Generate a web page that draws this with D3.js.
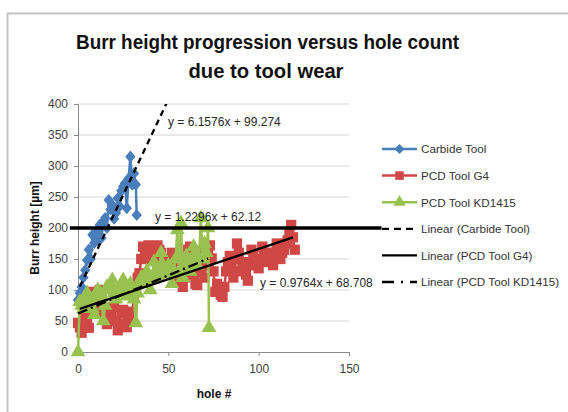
<!DOCTYPE html>
<html><head><meta charset="utf-8">
<script src="https://cdn.jsdelivr.net/npm/d3@7"></script>
<style>body{margin:0;background:#fff}svg{display:block;font-family:"Liberation Sans",Arial,sans-serif}</style>
</head><body><svg id="c" width="568" height="412"></svg>
<script>
// ---- data ----
const carbideX = [0,1,2,3,4,5,6,7,8,9,10,11,12,13,14,15,16,17,18,19,20,21,22,23,24,25,26,27,28,29,30,31,32,32.5];
const carbideY = [84,95,105,120,132,148,165,150,189,176,192,180,205,184,210,216,200,245,230,237,215,224,248,235,260,267,272,232,280,315,270,288,270,221];
const g4X = d3.range(0,121);
const g4Y = [47,40,31,55,62,50,39,70,97,85,
             75,90,100,80,65,55,45,50,60,72,
             73,50,35,45,62,68,45,40,57,52,
             65,90,105,120,127,150,170,160,150,172,
             165,155,148,160,172,165,160,150,140,150,
             130,145,160,140,115,125,145,130,105,120,
             150,165,170,150,125,110,108,130,160,145,
             120,140,165,172,151,130,97,110,100,92,
             89,105,130,145,155,135,120,150,175,160,
             130,140,145,125,115,140,165,155,150,140,
             135,150,170,160,145,155,160,150,140,160,
             175,165,150,160,165,175,180,190,205,185,
             165];
const kdX = d3.range(0,72).concat([72,72.5]);
const kdY = [0,81,75,70,90,95,80,85,70,60,
             90,100,95,90,50,75,105,100,110,116,
             95,85,100,95,105,116,100,90,105,110,
             100,85,47,95,110,120,115,110,130,125,
             100,120,145,130,120,135,160,140,125,130,
             140,125,110,130,150,197,130,208,120,140,
             155,145,130,150,170,160,140,150,216,150,
             175,160,200,39];
const seriesNames = ["Carbide Tool","PCD Tool G4","PCD Tool KD1415"];
const trendNames = ["Linear (Carbide Tool)","Linear (PCD Tool G4)","Linear (PCD Tool KD1415)"];
const trendSlope = [6.1576, 0.9764, 1.2296];
const trendIntercept = [99.274, 68.708, 62.12];
const trendRange = [[1,50],[1,119],[0,72]];
const trendLabels = ["y = 6.1576x + 99.274","y = 0.9764x + 68.708","y = 1.2296x + 62.12"];
const xTicks = [0,50,100,150];
const yTicks = [0,50,100,150,200,250,300,350,400];
const limitValue = 200;
const limitXRange = [-4.5,168];

// ---- setup ----
const svg = d3.select("#c");
const x = d3.scaleLinear().domain([0,150]).range([78,349]);
const y = d3.scaleLinear().domain([0,400]).range([352,104]);
const colors = ["#4a7ebb","#cf4845","#98c14f"];

svg.append("rect").attr("x",7.5).attr("y",13.5).attr("width",700).attr("height",600)
  .attr("fill","#fff").attr("stroke","#c4c4c4").attr("stroke-width",2);

// title
const title = svg.append("text").attr("text-anchor","middle").attr("font-weight","bold")
  .attr("font-size",19.5).attr("fill","#111");
title.append("tspan").attr("x",267.5).attr("y",49).text("Burr height progression versus hole count")
  .attr("textLength",383).attr("lengthAdjust","spacingAndGlyphs");
title.append("tspan").attr("x",266).attr("y",78).text("due to tool wear")
  .attr("textLength",155).attr("lengthAdjust","spacingAndGlyphs");

// gridlines
svg.append("g").selectAll("line").data(yTicks.filter(d=>d>0)).join("line")
  .attr("x1",x(0)).attr("x2",x(150)).attr("y1",d=>y(d)).attr("y2",d=>y(d))
  .attr("stroke","#d4d4d4").attr("stroke-width",1);

// axes
const xa = svg.append("g").attr("transform",`translate(0,${y(0)})`)
  .call(d3.axisBottom(x).tickValues(xTicks).tickSize(4).tickPadding(8));
const ya = svg.append("g").attr("transform",`translate(${x(0)},0)`)
  .call(d3.axisLeft(y).tickValues(yTicks).tickSize(4).tickPadding(6));
[xa,ya].forEach(a=>{
  a.select(".domain").attr("stroke","#8a8a8a");
  a.selectAll(".tick line").attr("stroke","#8a8a8a");
  a.selectAll("text").attr("font-size",12).attr("fill","#404040").attr("font-family","Liberation Sans, Arial, sans-serif");
});

// axis titles
svg.append("text").attr("x",214).attr("y",398).attr("text-anchor","middle")
  .attr("font-weight","bold").attr("font-size",12).attr("fill","#111").text("hole #");
svg.append("text").attr("transform","translate(39,228) rotate(-90)").attr("text-anchor","middle")
  .attr("font-weight","bold").attr("font-size",12).attr("fill","#111").text("Burr height [µm]");

// clip
svg.append("clipPath").attr("id","pc").append("rect")
  .attr("x",x(0)-7).attr("y",y(400)).attr("width",x(150)-x(0)+14).attr("height",y(0)-y(400)+8);

const plot = svg.append("g").attr("clip-path","url(#pc)");
const line = d3.line().x(d=>x(d[0])).y(d=>y(d[1]));
const series = [
  d3.zip(carbideX,carbideY),
  d3.zip(g4X,g4Y),
  d3.zip(kdX,kdY)
];
const symTypes = [d3.symbolDiamond2, d3.symbolSquare, d3.symbolTriangle];
const symSizes = [95, 105, 95];
function marker(sel,i,scale){
  const s = d3.symbol().type(symTypes[i]).size(symSizes[i]*(scale||1));
  sel.attr("d",s);
}
series.forEach((pts,i)=>{
  const g = plot.append("g");
  g.append("path").datum(pts).attr("d",line).attr("fill","none")
    .attr("stroke",colors[i]).attr("stroke-width",2.5).attr("stroke-linejoin","round");
  g.selectAll("path.m").data(pts).join("path").attr("class","m")
    .attr("transform",d=>`translate(${x(d[0])},${y(d[1])})${i===0?" scale(0.85,1)":""}`)
    .call(marker,i).attr("fill",colors[i]);
});

// trendlines
const dashes = ["6,4.5", null, "10,4,2,4"];
trendSlope.forEach((m,i)=>{
  const pts = trendRange[i].map(v=>[v, m*v+trendIntercept[i]]);
  plot.append("path").datum(pts).attr("d",line).attr("fill","none")
    .attr("stroke","#000").attr("stroke-width",2.3)
    .attr("stroke-dasharray",dashes[i]);
});

// limit line
svg.append("line").attr("x1",x(limitXRange[0])).attr("x2",x(limitXRange[1]))
  .attr("y1",y(limitValue)).attr("y2",y(limitValue))
  .attr("stroke","#000").attr("stroke-width",3.5);

// trend labels
const labelPos = [[168,126],[260,287],[155,221]];
trendLabels.forEach((t,i)=>{
  svg.append("text").attr("x",labelPos[i][0]).attr("y",labelPos[i][1])
    .attr("font-size",12).attr("fill","#262626").text(t);
});

// legend
const legNames = seriesNames.concat(trendNames);
const lg = svg.append("g");
legNames.forEach((n,i)=>{
  const yy = 149 + i*26.6;
  const row = lg.append("g");
  if(i<3){
    row.append("line").attr("x1",382).attr("x2",417).attr("y1",yy).attr("y2",yy)
      .attr("stroke",colors[i]).attr("stroke-width",2.5);
    row.append("path").attr("transform",`translate(399.5,${yy})`).call(marker,i,0.7).attr("fill",colors[i]);
  } else {
    const k = i-3;
    row.append("line").attr("x1",382).attr("x2",417).attr("y1",yy).attr("y2",yy)
      .attr("stroke","#000").attr("stroke-width",2.3)
      .attr("stroke-dasharray",k===0?"7,5":(k===2?"12,7,2,7":null));
  }
  row.append("text").attr("x",421).attr("y",yy+4.3).attr("font-size",11.7)
    .attr("fill","#333").text(n);
});
</script></body></html>
